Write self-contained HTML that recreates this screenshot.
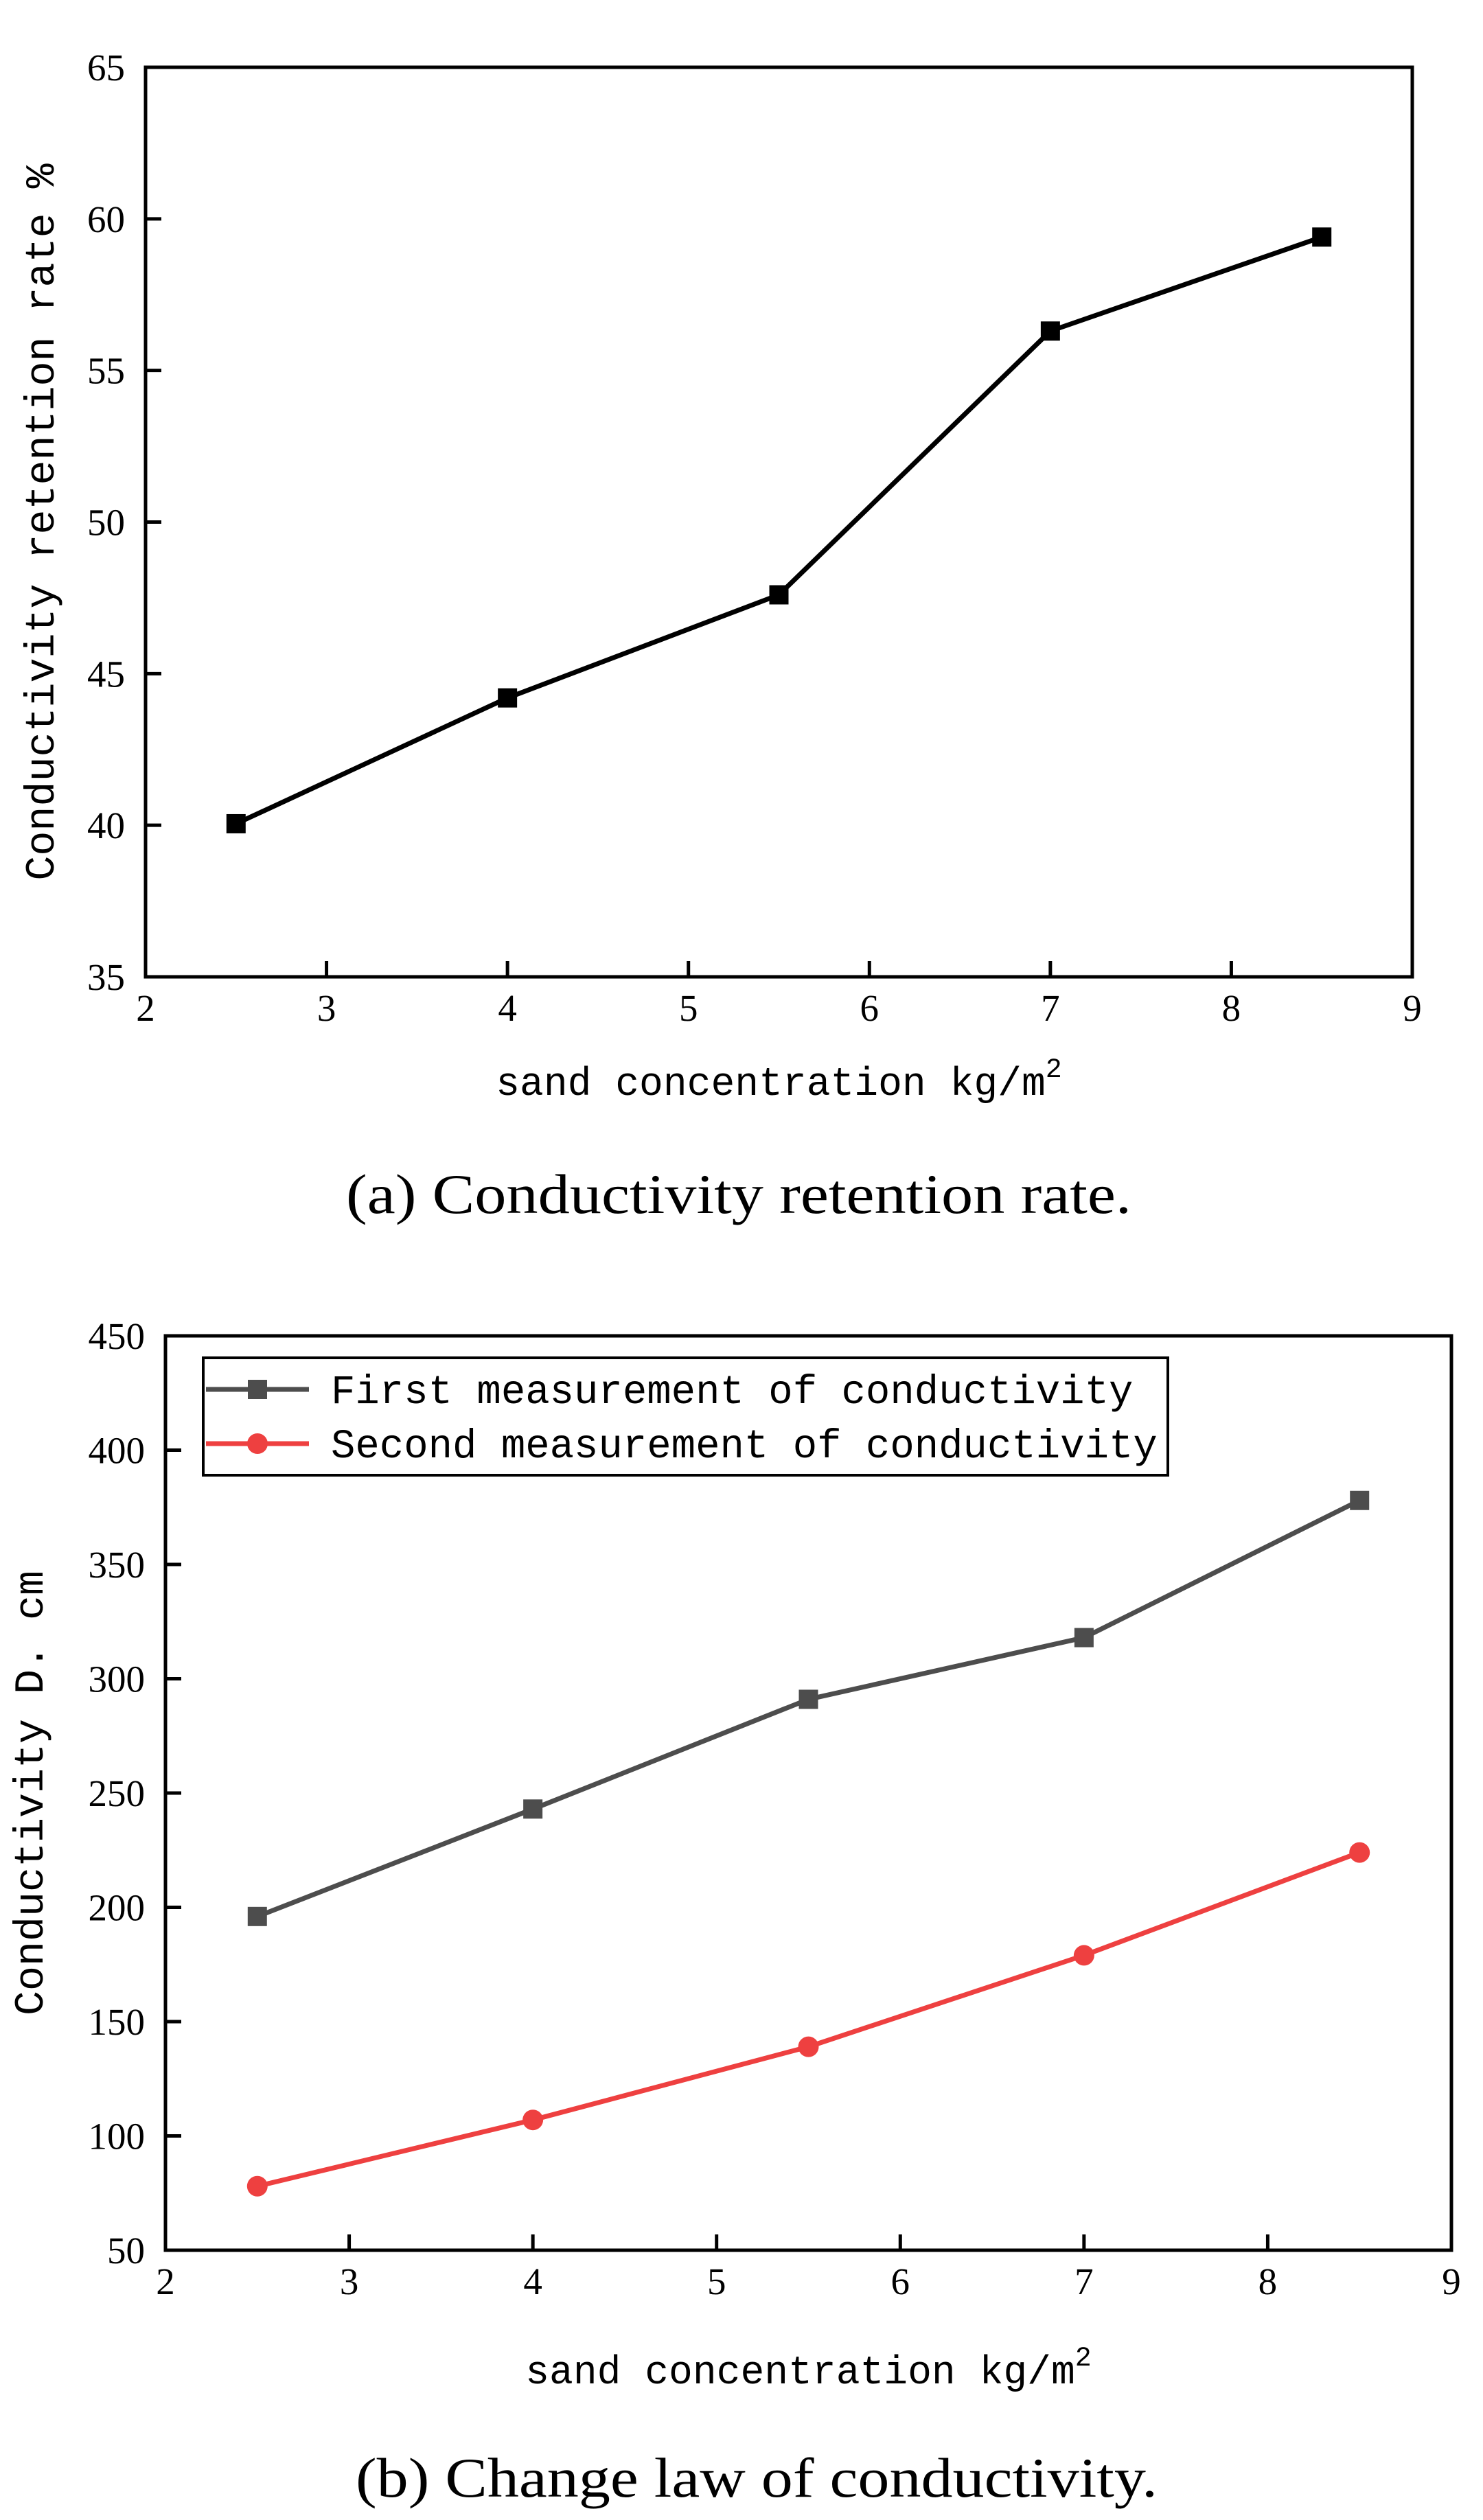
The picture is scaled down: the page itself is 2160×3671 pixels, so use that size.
<!DOCTYPE html>
<html><head><meta charset="utf-8"><style>
html,body{margin:0;padding:0;background:#fff;}
svg{display:block;}
</style></head><body>
<svg width="2160" height="3671" viewBox="0 0 2160 3671" xmlns="http://www.w3.org/2000/svg">
<g id="chartA"></g>
<g id="chartB"></g>
<text x="1076" y="1767" font-family="'Liberation Serif',serif" font-size="82" text-anchor="middle" textLength="1144" lengthAdjust="spacingAndGlyphs">(a) Conductivity retention rate.</text>
<text x="1102" y="3637" font-family="'Liberation Serif',serif" font-size="82" text-anchor="middle" textLength="1168" lengthAdjust="spacingAndGlyphs">(b) Change law of conductivity.</text>
</svg>
<script>
const xCats = [2.5, 4, 5.5, 7, 8.5];
const xTicks = [2, 3, 4, 5, 6, 7, 8, 9];
const retention = [40.05, 44.2, 47.6, 56.3, 59.4];
const yTicksA = [35, 40, 45, 50, 55, 60, 65];
const firstMeas = [196, 243, 291, 318, 378];
const secondMeas = [78, 107, 139, 179, 224];
const yTicksB = [50, 100, 150, 200, 250, 300, 350, 400, 450];

const NS = 'http://www.w3.org/2000/svg';
function mk(parent, tag, attrs, text) {
  const e = document.createElementNS(NS, tag);
  for (const k in attrs) e.setAttribute(k, attrs[k]);
  if (text !== undefined) e.textContent = text;
  parent.appendChild(e);
  return e;
}
const SERIF = "'Liberation Serif',serif";
const MONO = "'Liberation Mono',monospace";

function drawAxes(g, L, R, T, B, xmin, xmax, ymin, ymax, yt, xlabel, xlY, ylabel, ylX) {
  const sx = v => L + (v - xmin) / (xmax - xmin) * (R - L);
  const sy = v => B - (v - ymin) / (ymax - ymin) * (B - T);
  const frame = mk(g, 'rect', {x: L, y: T, width: R - L, height: B - T, fill: 'none', stroke: '#000', 'stroke-width': 5});
  
  
  xTicks.forEach(v => {
    const t = mk(g, 'line', {x1: sx(v), x2: sx(v), y1: B, y2: B - 23, stroke: '#000', 'stroke-width': 5});
    
    
    const l = mk(g, 'text', {x: sx(v), y: B + 64, 'font-family': SERIF, 'font-size': 55, 'text-anchor': 'middle'}, String(v));
    
    
  });
  yt.forEach(v => {
    const t = mk(g, 'line', {x1: L, x2: L + 23, y1: sy(v), y2: sy(v), stroke: '#000', 'stroke-width': 5});
    
    
    const l = mk(g, 'text', {x: L - 30, y: sy(v) + 19, 'font-family': SERIF, 'font-size': 55, 'text-anchor': 'end'}, String(v));
    
    
  });
  const xl = mk(g, 'text', {x: (L + R) / 2, y: xlY, 'font-family': MONO, 'font-size': 58, 'text-anchor': 'middle'});
  
  
  mk(xl, 'tspan', {}, xlabel);
  mk(xl, 'tspan', {dy: -26, 'font-size': 40}, '2');
  const yl = mk(g, 'text', {x: 0, y: 0, 'font-family': MONO, 'font-size': 60, 'text-anchor': 'middle', transform: `translate(${ylX},${(T + B) / 2}) rotate(-90)`}, ylabel);
  
  
  return {sx, sy};
}

function series(g, sx, sy, vals, color, marker, name) {
  const pts = xCats.map((x, i) => sx(x) + ',' + sy(vals[i])).join(' ');
  const pl = mk(g, 'polyline', {points: pts, fill: 'none', stroke: color, 'stroke-width': 7, 'stroke-linejoin': 'round'});
  
  
  xCats.forEach((x, i) => {
    let m;
    if (marker === 'square') m = mk(g, 'rect', {x: sx(x) - 14, y: sy(vals[i]) - 14, width: 28, height: 28, fill: color});
    else m = mk(g, 'circle', {cx: sx(x), cy: sy(vals[i]), r: 15, fill: color});
    
    
  });
}

// Chart A
const gA = document.getElementById('chartA');
const a = drawAxes(gA, 212, 2057, 98, 1423, 2, 9, 35, 65, yTicksA, 'sand concentration kg/m', 1595, 'Conductivity retention rate %', 78);
series(gA, a.sx, a.sy, retention, '#000', 'square', 'retention');

// Chart B
const gB = document.getElementById('chartB');
const b = drawAxes(gB, 241, 2114, 1946, 3278, 2, 9, 50, 450, yTicksB, 'sand concentration kg/m', 3472, 'Conductivity D. cm', 62);
series(gB, b.sx, b.sy, firstMeas, '#4d4d4d', 'square', 'first-measurement');
series(gB, b.sx, b.sy, secondMeas, '#ee4040', 'circle', 'second-measurement');

// Legend
const lg = mk(gB, 'g', {});


const box = mk(lg, 'rect', {x: 296, y: 1978, width: 1405, height: 171, fill: '#fff', stroke: '#000', 'stroke-width': 4});


[['First measurement of conductivity', '#4d4d4d', 'square', 2024], ['Second measurement of conductivity', '#ee4040', 'circle', 2103]].forEach(([t, c, m, y]) => {
  const e = mk(lg, 'g', {});
  
  
  mk(e, 'line', {x1: 300, x2: 450, y1: y, y2: y, stroke: c, 'stroke-width': 7});
  if (m === 'square') mk(e, 'rect', {x: 361, y: y - 14, width: 28, height: 28, fill: c});
  else mk(e, 'circle', {cx: 375, cy: y, r: 15, fill: c});
  mk(e, 'text', {x: 482, y: y + 20, 'font-family': MONO, 'font-size': 59}, t);
});
</script>
</body></html>
